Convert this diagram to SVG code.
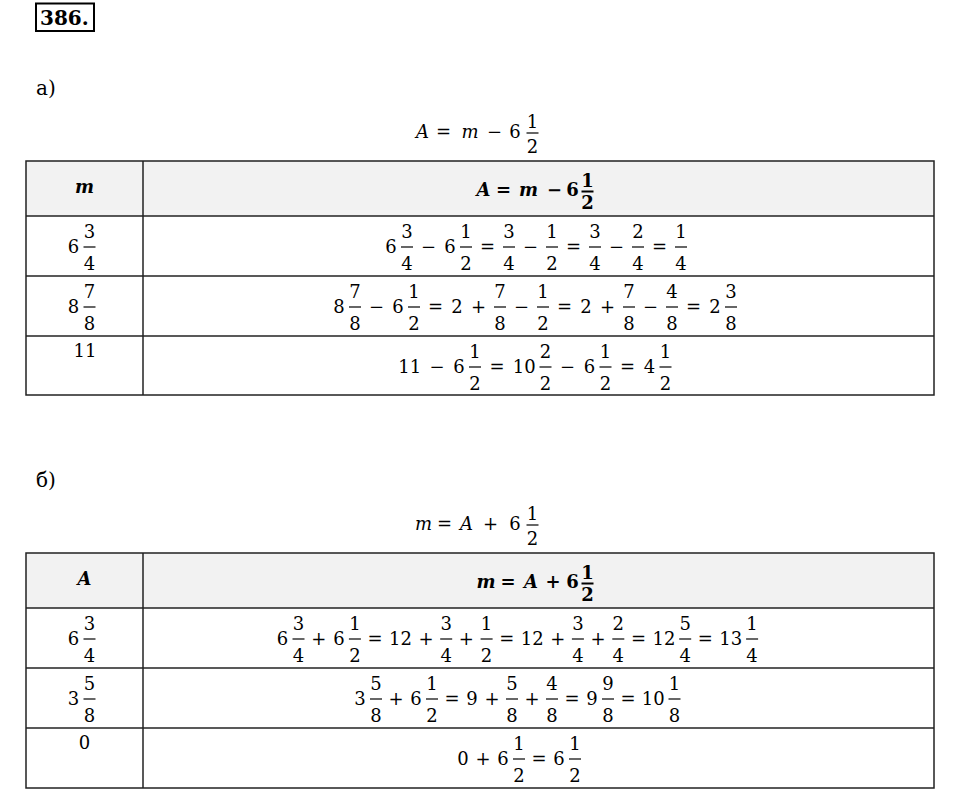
<svg xmlns="http://www.w3.org/2000/svg" width="960" height="804" viewBox="0 0 960 804">
<style>
text { font-family: "DejaVu Serif", "Liberation Serif", serif; font-size: 18px; text-anchor: middle; fill: #000; }
.i { font-style: italic; }
.b { font-weight: bold; }
.l { text-anchor: start; }
.fb { stroke: #000; stroke-width: 1.2; }
.fbb { stroke: #000; stroke-width: 2; }
.grid { stroke: #222; stroke-width: 1.5; fill: none; }
.head { fill: #f2f2f2; stroke: none; }
</style>
<rect width="960" height="804" fill="#fff"/>

<g id="number">
  <rect x="36" y="3.5" width="58" height="27.5" fill="none" stroke="#000" stroke-width="2"/>
  <text class="b l" x="40" y="25" style="font-size:20px">386.</text>
</g>

<g id="part-a">
  <text class="l" x="36" y="95" style="font-size:20px">а)</text>
  <g id="title-a">
    <text class="i" x="422.5" y="138">A</text><text x="443.5" y="138">=</text><text class="i" x="470" y="138">m</text><text x="494.5" y="138">−</text><text x="515" y="138">6</text>
    <text x="532.5" y="128">1</text><line class="fb" x1="526.5" y1="133" x2="538.5" y2="133"/><text x="532.5" y="153">2</text>
  </g>
  <g id="table-a">
    <rect class="head" x="26" y="161" width="908" height="55"/>
    <rect class="grid" x="26" y="161" width="908" height="234"/>
    <line class="grid" x1="26" y1="216" x2="934" y2="216"/>
    <line class="grid" x1="26" y1="276" x2="934" y2="276"/>
    <line class="grid" x1="26" y1="336" x2="934" y2="336"/>
    <line class="grid" x1="143" y1="161" x2="143" y2="395"/>
  </g>
  <g id="header-a">
    <text class="b i" x="84.5" y="193">m</text>
    <text class="b i" x="483.5" y="196">A</text><text class="b" x="503.5" y="196">=</text><text class="b i" x="528.5" y="196">m</text><text class="b" x="554.5" y="196">−</text><text class="b" x="572.5" y="196">6</text>
    <text class="b" x="587.5" y="187">1</text><line class="fbb" x1="581.5" y1="191.5" x2="593.5" y2="191.5"/><text class="b" x="587.5" y="209">2</text>
  </g>
  <g id="row-a1">
    <text x="73.5" y="253">6</text>
    <text x="89.5" y="238">3</text><line class="fb" x1="83.5" y1="247" x2="95.5" y2="247"/><text x="89.5" y="270">4</text>
    <text x="391" y="253">6</text><text x="428.5" y="253">−</text><text x="450" y="253">6</text><text x="487.5" y="253">=</text><text x="530.5" y="253">−</text><text x="573.5" y="253">=</text><text x="616.5" y="253">−</text><text x="659.5" y="253">=</text>
    <text x="407" y="238">3</text><line class="fb" x1="401" y1="247" x2="413" y2="247"/><text x="407" y="270">4</text>
    <text x="466" y="238">1</text><line class="fb" x1="460" y1="247" x2="472" y2="247"/><text x="466" y="270">2</text>
    <text x="509" y="238">3</text><line class="fb" x1="503" y1="247" x2="515" y2="247"/><text x="509" y="270">4</text>
    <text x="552" y="238">1</text><line class="fb" x1="546" y1="247" x2="558" y2="247"/><text x="552" y="270">2</text>
    <text x="595" y="238">3</text><line class="fb" x1="589" y1="247" x2="601" y2="247"/><text x="595" y="270">4</text>
    <text x="638" y="238">2</text><line class="fb" x1="632" y1="247" x2="644" y2="247"/><text x="638" y="270">4</text>
    <text x="681" y="238">1</text><line class="fb" x1="675" y1="247" x2="687" y2="247"/><text x="681" y="270">4</text>
  </g>
  <g id="row-a2">
    <text x="73.5" y="313">8</text>
    <text x="89.5" y="298">7</text><line class="fb" x1="83.5" y1="307" x2="95.5" y2="307"/><text x="89.5" y="330">8</text>
    <text x="339" y="313">8</text><text x="376.5" y="313">−</text><text x="398" y="313">6</text><text x="435.5" y="313">=</text><text x="457" y="313">2</text><text x="478.5" y="313">+</text><text x="521.5" y="313">−</text><text x="564.5" y="313">=</text><text x="586" y="313">2</text><text x="607.5" y="313">+</text><text x="650.5" y="313">−</text><text x="693.5" y="313">=</text><text x="715" y="313">2</text>
    <text x="355" y="298">7</text><line class="fb" x1="349" y1="307" x2="361" y2="307"/><text x="355" y="330">8</text>
    <text x="414" y="298">1</text><line class="fb" x1="408" y1="307" x2="420" y2="307"/><text x="414" y="330">2</text>
    <text x="500" y="298">7</text><line class="fb" x1="494" y1="307" x2="506" y2="307"/><text x="500" y="330">8</text>
    <text x="543" y="298">1</text><line class="fb" x1="537" y1="307" x2="549" y2="307"/><text x="543" y="330">2</text>
    <text x="629" y="298">7</text><line class="fb" x1="623" y1="307" x2="635" y2="307"/><text x="629" y="330">8</text>
    <text x="672" y="298">4</text><line class="fb" x1="666" y1="307" x2="678" y2="307"/><text x="672" y="330">8</text>
    <text x="731" y="298">3</text><line class="fb" x1="725" y1="307" x2="737" y2="307"/><text x="731" y="330">8</text>
  </g>
  <g id="row-a3">
    <text x="85" y="357">11</text>
    <text x="409.75" y="373">11</text><text x="437" y="373">−</text><text x="459" y="373">6</text><text x="497" y="373">=</text><text x="524.25" y="373">10</text><text x="567.5" y="373">−</text><text x="589.5" y="373">6</text><text x="627.5" y="373">=</text><text x="649.5" y="373">4</text>
    <text x="475" y="358">1</text><line class="fb" x1="469" y1="367" x2="481" y2="367"/><text x="475" y="390">2</text>
    <text x="545.5" y="358">2</text><line class="fb" x1="539.5" y1="367" x2="551.5" y2="367"/><text x="545.5" y="390">2</text>
    <text x="605.5" y="358">1</text><line class="fb" x1="599.5" y1="367" x2="611.5" y2="367"/><text x="605.5" y="390">2</text>
    <text x="665.5" y="358">1</text><line class="fb" x1="659.5" y1="367" x2="671.5" y2="367"/><text x="665.5" y="390">2</text>
  </g>
</g>

<g id="part-b">
  <text class="l" x="36" y="487" style="font-size:20px">б)</text>
  <g id="title-b">
    <text class="i" x="423.5" y="530">m</text><text x="444.5" y="530">=</text><text class="i" x="466.5" y="530">A</text><text x="490.5" y="530">+</text><text x="515" y="530">6</text>
    <text x="532.5" y="520">1</text><line class="fb" x1="526.5" y1="525" x2="538.5" y2="525"/><text x="532.5" y="545">2</text>
  </g>
  <g id="table-b">
    <rect class="head" x="26" y="553" width="908" height="55"/>
    <rect class="grid" x="26" y="553" width="908" height="235"/>
    <line class="grid" x1="26" y1="608" x2="934" y2="608"/>
    <line class="grid" x1="26" y1="668" x2="934" y2="668"/>
    <line class="grid" x1="26" y1="728" x2="934" y2="728"/>
    <line class="grid" x1="143" y1="553" x2="143" y2="788"/>
  </g>
  <g id="header-b">
    <text class="b i" x="84.5" y="585">A</text>
    <text class="b i" x="486" y="588">m</text><text class="b" x="508" y="588">=</text><text class="b i" x="531" y="588">A</text><text class="b" x="553" y="588">+</text><text class="b" x="572.5" y="588">6</text>
    <text class="b" x="587.5" y="579">1</text><line class="fbb" x1="581.5" y1="583.5" x2="593.5" y2="583.5"/><text class="b" x="587.5" y="601">2</text>
  </g>
  <g id="row-b1">
    <text x="73.5" y="645">6</text>
    <text x="89.5" y="630">3</text><line class="fb" x1="83.5" y1="639" x2="95.5" y2="639"/><text x="89.5" y="662">4</text>
    <text x="282.5" y="645">6</text><text x="318.7" y="645">+</text><text x="338.9" y="645">6</text><text x="375.1" y="645">=</text><text x="400.5" y="645">12</text><text x="426" y="645">+</text><text x="466.4" y="645">+</text><text x="506.8" y="645">=</text><text x="532.2" y="645">12</text><text x="557.7" y="645">+</text><text x="598.1" y="645">+</text><text x="638.5" y="645">=</text><text x="663.9" y="645">12</text><text x="705.4" y="645">=</text><text x="730.8" y="645">13</text>
    <text x="298.5" y="630">3</text><line class="fb" x1="292.5" y1="639" x2="304.5" y2="639"/><text x="298.5" y="662">4</text>
    <text x="354.9" y="630">1</text><line class="fb" x1="348.9" y1="639" x2="360.9" y2="639"/><text x="354.9" y="662">2</text>
    <text x="446.2" y="630">3</text><line class="fb" x1="440.2" y1="639" x2="452.2" y2="639"/><text x="446.2" y="662">4</text>
    <text x="486.6" y="630">1</text><line class="fb" x1="480.6" y1="639" x2="492.6" y2="639"/><text x="486.6" y="662">2</text>
    <text x="577.9" y="630">3</text><line class="fb" x1="571.9" y1="639" x2="583.9" y2="639"/><text x="577.9" y="662">4</text>
    <text x="618.3" y="630">2</text><line class="fb" x1="612.3" y1="639" x2="624.3" y2="639"/><text x="618.3" y="662">4</text>
    <text x="685.2" y="630">5</text><line class="fb" x1="679.2" y1="639" x2="691.2" y2="639"/><text x="685.2" y="662">4</text>
    <text x="752.1" y="630">1</text><line class="fb" x1="746.1" y1="639" x2="758.1" y2="639"/><text x="752.1" y="662">4</text>
  </g>
  <g id="row-b2">
    <text x="73.5" y="705">3</text>
    <text x="89.5" y="690">5</text><line class="fb" x1="83.5" y1="699" x2="95.5" y2="699"/><text x="89.5" y="722">8</text>
    <text x="360" y="705">3</text><text x="396" y="705">+</text><text x="416" y="705">6</text><text x="452" y="705">=</text><text x="472" y="705">9</text><text x="492" y="705">+</text><text x="532" y="705">+</text><text x="572" y="705">=</text><text x="592" y="705">9</text><text x="628" y="705">=</text><text x="653.25" y="705">10</text>
    <text x="376" y="690">5</text><line class="fb" x1="370" y1="699" x2="382" y2="699"/><text x="376" y="722">8</text>
    <text x="432" y="690">1</text><line class="fb" x1="426" y1="699" x2="438" y2="699"/><text x="432" y="722">2</text>
    <text x="512" y="690">5</text><line class="fb" x1="506" y1="699" x2="518" y2="699"/><text x="512" y="722">8</text>
    <text x="552" y="690">4</text><line class="fb" x1="546" y1="699" x2="558" y2="699"/><text x="552" y="722">8</text>
    <text x="608" y="690">9</text><line class="fb" x1="602" y1="699" x2="614" y2="699"/><text x="608" y="722">8</text>
    <text x="674.5" y="690">1</text><line class="fb" x1="668.5" y1="699" x2="680.5" y2="699"/><text x="674.5" y="722">8</text>
  </g>
  <g id="row-b3">
    <text x="84.5" y="749">0</text>
    <text x="463" y="765">0</text><text x="483" y="765">+</text><text x="503" y="765">6</text><text x="539" y="765">=</text><text x="559" y="765">6</text>
    <text x="519" y="750">1</text><line class="fb" x1="513" y1="759" x2="525" y2="759"/><text x="519" y="782">2</text>
    <text x="575" y="750">1</text><line class="fb" x1="569" y1="759" x2="581" y2="759"/><text x="575" y="782">2</text>
  </g>
</g>
</svg>
